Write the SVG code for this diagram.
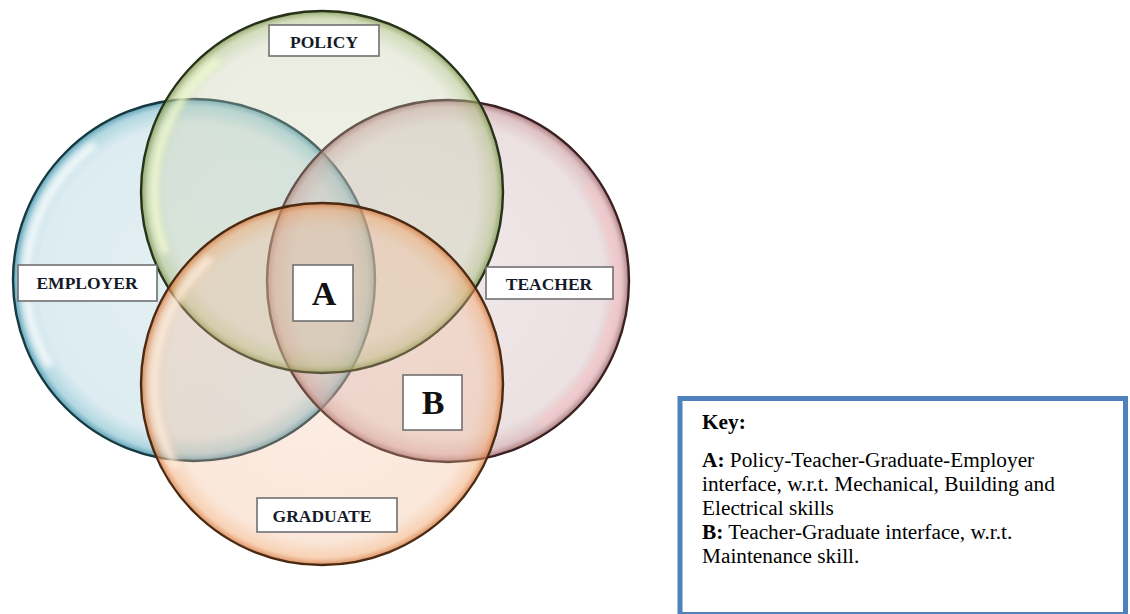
<svg xmlns="http://www.w3.org/2000/svg" width="1130" height="614" viewBox="0 0 1130 614">
  <style>
    .ring { stroke-width: 2.4; }
    .gloss { fill: none; stroke-width: 8; filter: url(#soft); }
    .tag { fill: #ffffff; stroke: #707070; stroke-width: 1.6; }
    .tagtext { font-family: "Liberation Serif", "Times New Roman", serif; font-weight: bold; font-size: 17.5px; fill: #141a2a; text-anchor: middle; }
    .big { font-family: "Liberation Serif", "Times New Roman", serif; font-weight: bold; font-size: 34px; fill: #111111; text-anchor: middle; }
    .key { font-family: "Liberation Serif", "Times New Roman", serif; font-size: 21.3px; fill: #000000; }
    .key .b { font-weight: bold; }
  </style>
  <defs>
    <filter id="soft" x="-20%" y="-20%" width="140%" height="140%">
      <feGaussianBlur stdDeviation="3"/>
    </filter>
    <radialGradient id="gEmployer" cx="0.5" cy="0.5" r="0.5">
      <stop offset="0" stop-color="#9ecad7" stop-opacity="0.28"/>
      <stop offset="0.86" stop-color="#9ecad7" stop-opacity="0.36"/>
      <stop offset="0.96" stop-color="#7dbccd" stop-opacity="0.6"/>
      <stop offset="1" stop-color="#3d8ea6" stop-opacity="0.85"/>
    </radialGradient>
    <radialGradient id="gPolicy" cx="0.5" cy="0.5" r="0.5">
      <stop offset="0" stop-color="#c6cdac" stop-opacity="0.28"/>
      <stop offset="0.86" stop-color="#c6cdac" stop-opacity="0.36"/>
      <stop offset="0.96" stop-color="#aebf84" stop-opacity="0.55"/>
      <stop offset="1" stop-color="#7a9146" stop-opacity="0.8"/>
    </radialGradient>
    <radialGradient id="gTeacher" cx="0.5" cy="0.5" r="0.5">
      <stop offset="0" stop-color="#caacaf" stop-opacity="0.28"/>
      <stop offset="0.86" stop-color="#caacaf" stop-opacity="0.36"/>
      <stop offset="0.96" stop-color="#c99a9e" stop-opacity="0.6"/>
      <stop offset="1" stop-color="#9b6568" stop-opacity="0.85"/>
    </radialGradient>
    <radialGradient id="gGraduate" cx="0.5" cy="0.5" r="0.5">
      <stop offset="0" stop-color="#f2b994" stop-opacity="0.26"/>
      <stop offset="0.86" stop-color="#f2b994" stop-opacity="0.34"/>
      <stop offset="0.96" stop-color="#f0a46a" stop-opacity="0.5"/>
      <stop offset="1" stop-color="#d2733a" stop-opacity="0.8"/>
    </radialGradient>
  </defs>

  <rect width="1130" height="614" fill="#ffffff"/>

  <!-- Employer circle -->
  <g id="employer">
    <circle cx="194" cy="280" r="181" fill="url(#gEmployer)" class="ring" stroke="#173942"/>
    <circle cx="194" cy="280" r="168" class="gloss" stroke="#ffffff" stroke-opacity="0.85" stroke-dasharray="248 802" stroke-dashoffset="-437"/>
  </g>

  <!-- Teacher circle -->
  <g id="teacher">
    <circle cx="448" cy="281" r="181" fill="url(#gTeacher)" class="ring" stroke="#3a2020"/>
    <circle cx="448" cy="281" r="169" class="gloss" stroke="#f7c9cd" stroke-opacity="0.8" stroke-dasharray="260 790" stroke-dashoffset="-960"/>
  </g>

  <!-- Policy circle -->
  <g id="policy">
    <circle cx="322" cy="192" r="181" fill="url(#gPolicy)" class="ring" stroke="#26321a"/>
    <circle cx="322" cy="192" r="168" class="gloss" stroke="#f2fbd0" stroke-opacity="0.85" stroke-dasharray="215 835" stroke-dashoffset="-465"/>
  </g>

  <!-- Graduate circle -->
  <g id="graduate">
    <circle cx="322" cy="384" r="181" fill="url(#gGraduate)" class="ring" stroke="#4a2a12"/>
    <circle cx="322" cy="384" r="168" class="gloss" stroke="#fff0e2" stroke-opacity="0.8" stroke-dasharray="230 820" stroke-dashoffset="-440"/>
  </g>

  <!-- Circle name tags -->
  <g id="label-policy">
    <rect class="tag" x="269" y="25" width="110" height="31"/>
    <text class="tagtext" x="324" y="48">POLICY</text>
  </g>
  <g id="label-employer">
    <rect class="tag" x="18" y="265" width="139" height="36"/>
    <text class="tagtext" x="87" y="289">EMPLOYER</text>
  </g>
  <g id="label-teacher">
    <rect class="tag" x="486" y="267" width="127" height="32"/>
    <text class="tagtext" x="549" y="290">TEACHER</text>
  </g>
  <g id="label-graduate">
    <rect class="tag" x="257" y="498" width="140" height="34"/>
    <text class="tagtext" x="322" y="522">GRADUATE</text>
  </g>

  <!-- Region markers -->
  <g id="region-a">
    <rect class="tag" x="293" y="265" width="60" height="56"/>
    <text class="big" x="324" y="305">A</text>
  </g>
  <g id="region-b">
    <rect class="tag" x="403" y="375" width="59" height="55"/>
    <text class="big" x="433" y="414">B</text>
  </g>

  <!-- Key -->
  <g id="key">
    <rect x="680" y="398.5" width="445.5" height="216" fill="#ffffff" stroke="#4f81bd" stroke-width="5"/>
    <text class="key" x="702" y="429"><tspan class="b">Key:</tspan></text>
    <text class="key" x="702" y="467"><tspan class="b">A:</tspan> Policy-Teacher-Graduate-Employer</text>
    <text class="key" x="702" y="491">interface, w.r.t. Mechanical, Building and</text>
    <text class="key" x="702" y="515">Electrical skills</text>
    <text class="key" x="702" y="539"><tspan class="b">B:</tspan> Teacher-Graduate interface, w.r.t.</text>
    <text class="key" x="702" y="563">Maintenance skill.</text>
  </g>
</svg>
